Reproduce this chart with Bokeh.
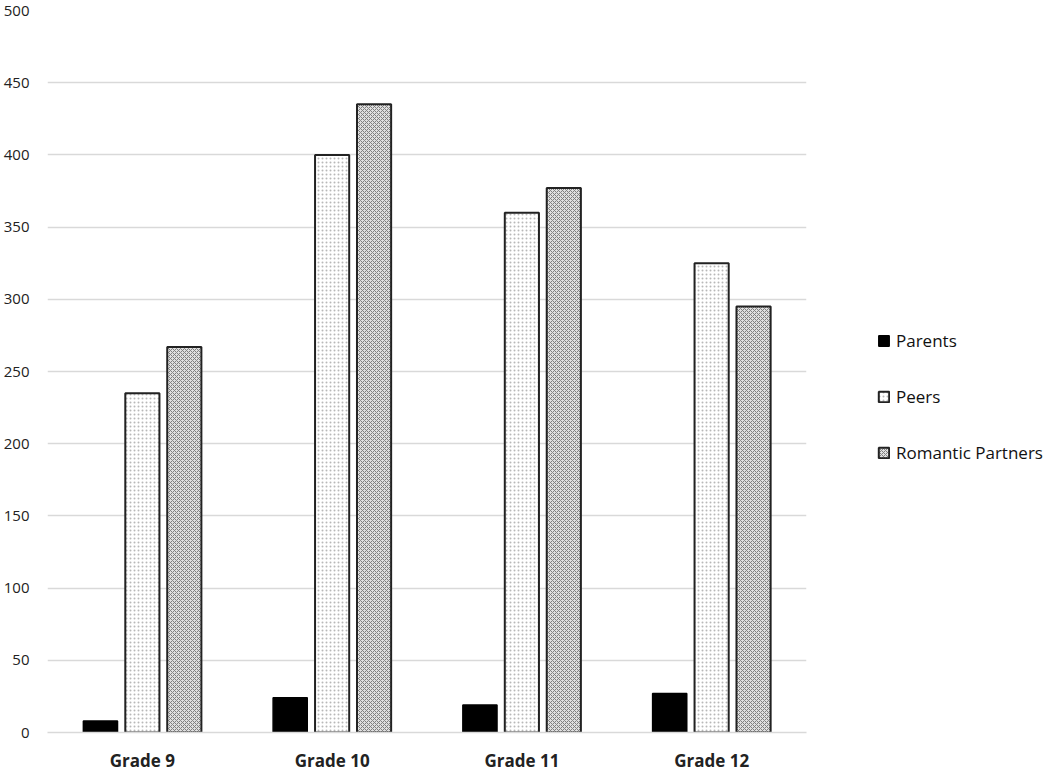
from bokeh.plotting import figure
from bokeh.models import ColumnDataSource, FactorRange, Legend, LegendItem
from bokeh.transform import dodge
from bokeh.embed import file_html
from bokeh.resources import INLINE

grades = ["Grade 9", "Grade 10", "Grade 11", "Grade 12"]
parents = [8, 24, 19, 27]
peers = [235, 400, 360, 325]
romantic = [267, 435, 377, 295]
y_ticks = [0, 50, 100, 150, 200, 250, 300, 350, 400, 450, 500]

source = ColumnDataSource(dict(grade=grades, parents=parents, peers=peers, romantic=romantic))

p = figure(x_range=FactorRange(*grades), y_range=(0, 500),
           frame_width=759, frame_height=722,
           output_backend="svg", toolbar_location=None,
           min_border_left=41, min_border_top=10, min_border_right=0, min_border_bottom=0)

FONT = "Open Sans"
w = 0.18
r1 = p.vbar(x=dodge("grade", -0.221, range=p.x_range), top="parents", width=w, source=source,
            fill_color="black", line_color="black", line_width=1.5)
r2 = p.vbar(x=dodge("grade", 0.0, range=p.x_range), top="peers", width=w, source=source,
            fill_color="white", line_color="#222222", line_width=2,
            hatch_pattern="dot", hatch_color="#b8b8b8", hatch_scale=4, hatch_weight=1.2)
r3 = p.vbar(x=dodge("grade", 0.221, range=p.x_range), top="romantic", width=w, source=source,
            fill_color="#e0e0e0", line_color="#222222", line_width=2,
            hatch_pattern="diagonal_cross", hatch_color="#808080", hatch_scale=4, hatch_weight=1)

legend = Legend(items=[LegendItem(label="Parents", renderers=[r1]),
                       LegendItem(label="Peers", renderers=[r2]),
                       LegendItem(label="Romantic Partners", renderers=[r3])],
                location=(71, 268), orientation="vertical",
                glyph_width=13, glyph_height=13, label_standoff=6, spacing=33,
                label_text_font=FONT, label_text_font_size="17px", label_text_color="#111111",
                border_line_color=None, background_fill_alpha=0, padding=0, margin=0)
p.add_layout(legend, "right")

p.outline_line_color = None
p.xgrid.grid_line_color = None
p.ygrid.grid_line_color = "#d9d9d9"
p.ygrid.grid_line_width = 1.5
p.yaxis.ticker = y_ticks
p.yaxis.axis_line_color = None
p.yaxis.major_tick_line_color = None
p.yaxis.minor_tick_line_color = None
p.yaxis.major_label_text_font = FONT
p.yaxis.major_label_text_font_size = "15px"
p.yaxis.major_label_text_color = "#222222"
p.yaxis.major_label_standoff = 12
p.xaxis.axis_line_color = "#d9d9d9"
p.xaxis.axis_line_width = 1.5
p.xaxis.major_tick_line_color = None
p.xaxis.minor_tick_line_color = None
p.xaxis.major_label_text_font = FONT
p.xaxis.major_label_text_font_size = "17px"
p.xaxis.major_label_text_font_style = "bold"
p.xaxis.major_label_text_color = "#222222"
p.xaxis.major_label_standoff = 10
p.x_range.range_padding = 0
p.x_range.group_padding = 0
p.y_range.start = 0
p.y_range.end = 500

open("out.html", "w").write(file_html(p, INLINE))
